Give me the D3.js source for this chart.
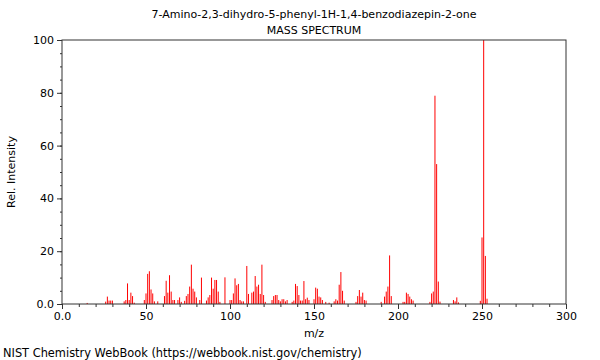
<!DOCTYPE html>
<html>
<head>
<meta charset="utf-8">
<script src="https://cdn.jsdelivr.net/npm/d3@7"></script>
<style>
  body { margin: 0; background: #fff; }
  text { font-family: "DejaVu Sans", sans-serif; }
</style>
</head>
<body>
<div id="chart-area"></div>
<script>
// peaks: m/z and relative intensity
let mzValues = [15, 26, 27, 28, 29, 30, 37, 38, 39, 40, 41, 42, 43, 49, 50, 51, 52, 53, 54, 55, 57,
    61, 62, 63, 64, 65, 66, 67, 69, 70, 71, 73, 74, 75, 76, 77, 78, 79, 80, 82, 83, 86, 87, 88, 89,
    90, 91, 92, 93, 94, 97, 100, 101, 102, 103, 104, 105, 106, 107, 108, 110, 111, 113, 114, 115,
    116, 117, 118, 119, 120, 121, 125, 126, 127, 128, 129, 130, 131, 132, 133, 134, 137, 138, 139,
    140, 141, 142, 143, 144, 145, 146, 147, 150, 151, 152, 153, 154, 155, 157, 159, 162, 163, 164,
    165, 166, 167, 168, 175, 176, 177, 178, 179, 180, 181, 190, 192, 193, 194, 195, 196, 203, 204,
    205, 206, 207, 208, 209, 219, 220, 221, 222, 223, 224, 225, 233, 234, 235, 236, 249, 250, 251,
    252, 253];
let intensities = [0.4, 0.9, 2.8, 1.3, 1.3, 1.3, 1.0, 1.5, 7.8, 1.5, 4.3, 3.0, 0.5, 1.5, 4.0, 11.4,
    12.4, 5.5, 4.0, 1.0, 1.0,
    3.0, 8.8, 4.3, 10.9, 4.7, 1.5, 1.5, 1.5, 2.5, 0.8, 1.2, 3.0, 3.8, 6.6, 14.9, 5.8, 4.7, 2.5, 1.5,
    10.0, 1.3, 2.5, 3.4, 10.0,
    5.8, 9.1, 9.1, 4.7, 0.8, 10.1, 1.5, 1.5, 4.0, 9.7, 7.1, 7.6, 1.5, 1.0, 1.0, 14.4, 3.8, 4.3, 4.7, 10.6,
    6.6, 7.3, 3.8, 14.9, 3.4, 0.8, 1.5, 3.0, 3.4, 3.4, 1.5, 1.0, 1.8, 1.8, 1.0, 1.5, 0.8, 1.3, 7.6,
    6.8, 3.4, 1.3, 1.3, 8.7, 1.8, 2.4, 1.5, 1.8, 6.2, 5.8, 2.8, 2.5, 1.5, 0.8, 0.5, 1.0, 1.8, 1.3,
    7.3, 12.1, 5.0, 1.3, 0.8, 3.0, 5.3, 2.8, 4.3, 1.5, 1.3, 0.8, 2.8, 4.7, 6.6, 18.4, 3.0, 0.8, 0.8,
    4.3, 3.8, 2.8, 1.8, 1.3, 0.8, 4.0, 4.7, 78.9, 53.0, 8.5, 0.9, 1.5, 1.0, 2.5, 0.6, 1.2, 25.2, 100,
    18.2, 2.0];
let xTicks = [0, 50, 100, 150, 200, 250, 300];
let yTicks = [0, 20, 40, 60, 80, 100];

let peaks = mzValues.map((m, i) => ({mz: m, inten: intensities[i]}));

let margin = {top: 40, right: 34, bottom: 56, left: 62},
    width = 600 - margin.left - margin.right,
    height = 360 - margin.top - margin.bottom;

const svg = d3.select("#chart-area").append("svg")
    .attr("width", 600)
    .attr("height", 360)

const plot = svg.append("g")
    .attr("transform", `translate(${margin.left}, ${margin.top})`)

const x = d3.scaleLinear()
    .domain([0, 300])
    .range([0, width])

const y = d3.scaleLinear()
    .domain([0, 100])
    .range([height, 0])

// bars
plot.selectAll("line.peak")
    .data(peaks)
    .enter()
    .append("line")
    .attr("class", "peak")
    .attr("x1", d => x(d.mz))
    .attr("x2", d => x(d.mz))
    .attr("y1", y(0))
    .attr("y2", d => y(d.inten))
    .attr("stroke", "#ff0000")
    .attr("stroke-width", 1)

// minor ticks
const xMinor = plot.append("g")
    .attr("transform", `translate(0, ${height})`)
    .call(d3.axisBottom(x).tickValues(d3.range(0, 301, 10)).tickSize(3).tickFormat(""))
xMinor.select(".domain").remove()

const yMinor = plot.append("g")
    .call(d3.axisLeft(y).tickValues(d3.range(0, 101, 5)).tickSize(2).tickFormat(""))
yMinor.select(".domain").remove()

// major ticks
const xAxis = plot.append("g")
    .attr("transform", `translate(0, ${height})`)
    .call(d3.axisBottom(x).tickValues(xTicks).tickSize(5).tickPadding(3)
        .tickFormat(d => d === 0 ? "0.0" : d))
xAxis.select(".domain").remove()
xAxis.selectAll("text").attr("font-size", "11px").attr("fill", "#000")

const yAxis = plot.append("g")
    .call(d3.axisLeft(y).tickValues(yTicks).tickSize(5).tickPadding(3)
        .tickFormat(d => d === 0 ? "0.0" : d))
yAxis.select(".domain").remove()
yAxis.selectAll("text").attr("font-size", "11px").attr("fill", "#000")

svg.selectAll(".tick line").attr("stroke", "#333")

// frame
plot.append("rect")
    .attr("x", 0)
    .attr("y", 0)
    .attr("width", width)
    .attr("height", height)
    .attr("fill", "none")
    .attr("stroke", "#333")
    .attr("stroke-width", 1)

// titles
svg.append("text")
    .attr("x", margin.left + width / 2)
    .attr("y", 18)
    .attr("font-size", "11px")
    .attr("text-anchor", "middle")
    .text("7-Amino-2,3-dihydro-5-phenyl-1H-1,4-benzodiazepin-2-one")

svg.append("text")
    .attr("x", margin.left + width / 2)
    .attr("y", 34)
    .attr("font-size", "11px")
    .attr("text-anchor", "middle")
    .text("MASS SPECTRUM")

svg.append("text")
    .attr("x", margin.left + width / 2)
    .attr("y", 337)
    .attr("font-size", "11px")
    .attr("text-anchor", "middle")
    .text("m/z")

svg.append("text")
    .attr("x", -(margin.top + height / 2))
    .attr("y", 15)
    .attr("font-size", "11px")
    .attr("text-anchor", "middle")
    .attr("transform", "rotate(-90)")
    .text("Rel. Intensity")

svg.append("text")
    .attr("x", 3)
    .attr("y", 357)
    .attr("font-size", "11.4px")
    .text("NIST Chemistry WebBook (https://webbook.nist.gov/chemistry)")
</script>
</body>
</html>
